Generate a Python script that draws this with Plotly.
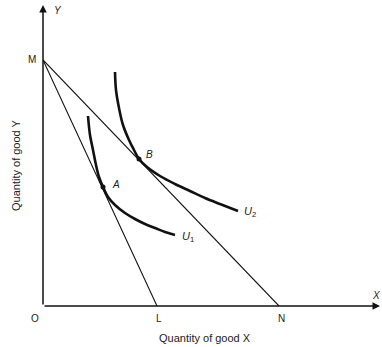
import plotly.graph_objects as go

# Data (chart units)
M_y = 246
L_x = 114
N_x = 236
point_names = ["A", "B"]
point_x = [60, 96]
point_y = [119, 147]
u1_x = [45, 47, 50, 53, 56, 60, 65, 72, 82, 92, 102, 112, 122, 132]
u1_y = [190, 171, 156, 141, 129, 119, 109, 101, 93, 87, 82, 78, 74, 71]
u2_x = [72, 73, 76, 80, 86, 91, 96, 104, 117, 132, 147, 162, 177, 195]
u2_y = [234, 216, 198, 181, 166, 156, 147, 139, 130, 122, 115, 108, 102, 95]

XR = 337.0
YR = 301.0

fig = go.Figure()
fig.add_trace(go.Scatter(x=[0, L_x], y=[M_y, 0], mode="lines",
                         line=dict(color="#111", width=1.1), hoverinfo="skip"))
fig.add_trace(go.Scatter(x=[0, N_x], y=[M_y, 0], mode="lines",
                         line=dict(color="#111", width=1.1), hoverinfo="skip"))
fig.add_trace(go.Scatter(x=u1_x, y=u1_y, mode="lines", line_shape="spline",
                         line=dict(color="#111", width=2.6), hoverinfo="skip"))
fig.add_trace(go.Scatter(x=u2_x, y=u2_y, mode="lines", line_shape="spline",
                         line=dict(color="#111", width=2.6), hoverinfo="skip"))
fig.add_trace(go.Scatter(x=point_x, y=point_y, mode="markers",
                         marker=dict(color="#111", size=5), hoverinfo="skip"))

fam = "Liberation Sans, Arial, sans-serif"
ann = []
def lab(x, y, t, size=10, **kw):
    d = dict(x=x / XR, y=y / YR, xref="paper", yref="paper", text=t,
             showarrow=False, xanchor="center", yanchor="middle",
             font=dict(family=fam, size=size, color="#222"))
    d.update(kw)
    ann.append(d)

lab(-8, -12, "O")
lab(116, -12, "L")
lab(238, -12, "N")
lab(-11, M_y, "M")
lab(15, 296, "<i>Y</i>")
lab(333, 11, "<i>X</i>")
lab(point_x[0] + 13, point_y[0] + 3, "<i>A</i>")
lab(point_x[1] + 10, point_y[1] + 5, "<i>B</i>")
lab(207, 94, "<i>U</i><sub>2</sub>", size=11)
lab(145, 69, "<i>U</i><sub>1</sub>", size=11)
lab(162, -32, "Quantity of good X", size=11)
lab(-27, 141, "Quantity of good Y", size=11, textangle=-90)

ann.append(dict(x=0, y=301, xref="x", yref="y", ax=0, ay=0, axref="x", ayref="y",
                showarrow=True, arrowhead=2, arrowsize=1, arrowwidth=1.5,
                arrowcolor="#111", text=""))
ann.append(dict(x=337, y=0, xref="x", yref="y", ax=0, ay=0, axref="x", ayref="y",
                showarrow=True, arrowhead=2, arrowsize=1, arrowwidth=1.5,
                arrowcolor="#111", text=""))

fig.update_layout(
    width=382, height=347,
    margin=dict(l=43, r=2, t=5, b=41),
    paper_bgcolor="white", plot_bgcolor="white",
    showlegend=False,
    annotations=ann,
    xaxis=dict(range=[0, XR], visible=False, fixedrange=True),
    yaxis=dict(range=[0, YR], visible=False, fixedrange=True),
)
fig.write_html("out.html")
